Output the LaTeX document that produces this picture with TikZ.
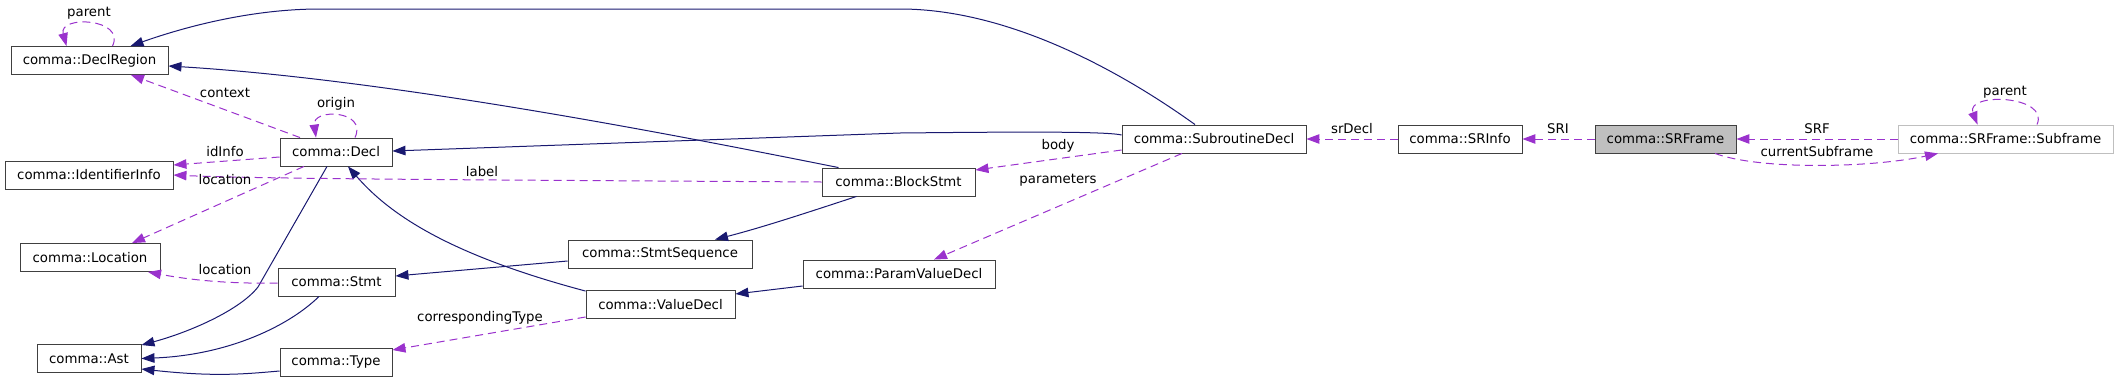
\documentclass[tikz,border=0pt]{standalone}
\usepackage{fontspec}
\setmainfont{DejaVu Sans}
\usetikzlibrary{arrows.meta,calc}
\definecolor{edgeblue}{HTML}{191970}
\definecolor{edgepurple}{HTML}{9A32CD}
\definecolor{fillgray}{HTML}{BFBFBF}
\begin{document}
\begin{tikzpicture}[x=1pt,y=-1pt,
  cls/.style={draw=black!75, line width=0.9pt, fill=white, minimum height=28pt, inner sep=0pt, font=\fontsize{13.3}{16}\selectfont},
  uses/.style={draw=edgeblue, line width=1pt, -{Triangle[length=13pt,width=9.5pt]}},
  dep/.style={draw=edgepurple, line width=1pt, dash pattern=on 8pt off 5pt, -{Triangle[length=13pt,width=9.5pt]}},
  lbl/.style={font=\fontsize{13.3}{16}\selectfont, inner sep=0pt}
]
\useasboundingbox (0,0) rectangle (2120,381);

% classes
\node[cls, minimum width=157pt] (DeclRegion) at (89.5,60.5) {comma::DeclRegion};
\node[cls, minimum width=168pt] (IdentifierInfo) at (89,175) {comma::IdentifierInfo};
\node[cls, minimum width=112pt] (Decl) at (336,152) {comma::Decl};
\node[cls, minimum width=140pt] (Location) at (90,257.5) {comma::Location};
\node[cls, minimum width=117pt] (Stmt) at (336.5,282) {comma::Stmt};
\node[cls, minimum width=104pt] (Ast) at (89,358.5) {comma::Ast};
\node[cls, minimum width=112pt] (Type) at (336,362) {comma::Type};
\node[cls, minimum width=153pt] (BlockStmt) at (898.5,182) {comma::BlockStmt};
\node[cls, minimum width=184pt] (StmtSequence) at (660,254) {comma::StmtSequence};
\node[cls, minimum width=149pt] (ValueDecl) at (660.5,304.5) {comma::ValueDecl};
\node[cls, minimum width=192pt] (ParamValueDecl) at (899,274) {comma::ParamValueDecl};
\node[cls, minimum width=184pt] (SubroutineDecl) at (1214,139) {comma::SubroutineDecl};
\node[cls, minimum width=124pt] (SRInfo) at (1460,139) {comma::SRInfo};
\node[cls, minimum width=141pt, fill=fillgray] (SRFrame) at (1665.5,139) {comma::SRFrame};
\node[cls, minimum width=215pt, draw=fillgray] (Subframe) at (2005.5,139) {comma::SRFrame::Subframe};

% solid (inheritance / usage) edges
\draw[uses] ($(SubroutineDecl.north)+(-19,0)$) .. controls (1140,85) and (1020,9) .. (900,9) -- (320,9) .. controls (255,9) and (190,25) .. ($(DeclRegion.north)+(41,0)$);
\draw[uses] ($(BlockStmt.north)+(-60,0)$) .. controls (700,140) and (400,80) .. ($(DeclRegion.east)+(0,5.5)$);
\draw[uses] ($(SubroutineDecl.west)+(0,-4)$) .. controls (1105,131) and (1000,132) .. (900,133) -- ($(Decl.east)+(0,-1)$);
\draw[uses] ($(Decl.south)+(-9,0)$) -- (258,287) .. controls (240,310) and (190,332) .. ($(Ast.north east)+(0,1)$);
\draw[uses] ($(Stmt.south)+(-17.5,0)$) .. controls (290,325) and (230,355) .. (Ast.east);
\draw[uses] ($(Type.west)+(0,9)$) .. controls (245,374) and (215,377) .. ($(Ast.east)+(0,10.5)$);
\draw[uses] ($(ValueDecl.north west)+(0,1)$) .. controls (450,255) and (390,215) .. ($(Decl.south)+(12,0)$);
\draw[uses] ($(StmtSequence.west)+(0,7)$) -- ($(Stmt.east)+(0,-6)$);
\draw[uses] ($(BlockStmt.south)+(-42,0)$) .. controls (800,215) and (760,228) .. ($(StmtSequence.north)+(55,0)$);
\draw[uses] ($(ParamValueDecl.west)+(0,12)$) -- ($(ValueDecl.east)+(0,-10.5)$);

% dashed (member) edges
\draw[dep] ($(DeclRegion.north)+(23,0)$) .. controls (126,18) and (58,15) .. ($(DeclRegion.north)+(-23,0)$);
\node[lbl] at (89,13) {parent};
\draw[dep] ($(Decl.north)+(-36,0)$) -- ($(DeclRegion.south)+(41.5,0)$);
\node[lbl] at (225,93) {context};
\draw[dep] ($(Decl.north)+(19,0)$) .. controls (368,110) and (312,108) .. ($(Decl.north)+(-20,0)$);
\node[lbl] at (336,104) {origin};
\draw[dep] ($(Decl.west)+(0,5)$) -- ($(IdentifierInfo.east)+(0,-10)$);
\node[lbl] at (225,152) {idInfo};
\draw[dep] (BlockStmt.west) .. controls (500,180) and (260,179) .. (IdentifierInfo.east);
\node[lbl] at (482,172) {label};
\draw[dep] ($(Decl.south)+(-32,0)$) -- ($(Location.north)+(42,0)$);
\node[lbl] at (225,180) {location};
\draw[dep] ($(Stmt.west)+(0,1)$) .. controls (230,284) and (190,280) .. ($(Location.south)+(58,0)$);
\node[lbl] at (225,270) {location};
\draw[dep] ($(ValueDecl.west)+(0,12.5)$) -- ($(Type.east)+(0,-12)$);
\node[lbl] at (480,318) {correspondingType};
\draw[dep] ($(SubroutineDecl.west)+(0,11)$) -- ($(BlockStmt.east)+(0,-12)$);
\node[lbl] at (1058,146) {body};
\draw[dep] ($(SubroutineDecl.south)+(-32,0)$) -- ($(ParamValueDecl.north)+(35,0)$);
\node[lbl] at (1058,180) {parameters};
\draw[dep] (SRInfo) -- (SubroutineDecl);
\node[lbl] at (1352,129) {srDecl};
\draw[dep] (SRFrame) -- (SRInfo);
\node[lbl] at (1558,129) {SRI};
\draw[dep] (Subframe) -- (SRFrame);
\node[lbl] at (1817,129) {SRF};
\draw[dep] ($(SRFrame.south)+(49.5,0)$) .. controls (1760,170) and (1870,168) .. ($(Subframe.south)+(-67.5,0)$);
\node[lbl] at (1817,152) {currentSubframe};
\draw[dep] ($(Subframe.north)+(31.5,0)$) .. controls (2050,95) and (1965,92) .. ($(Subframe.north)+(-28,0)$);
\node[lbl] at (2005,92) {parent};
\end{tikzpicture}
\end{document}
